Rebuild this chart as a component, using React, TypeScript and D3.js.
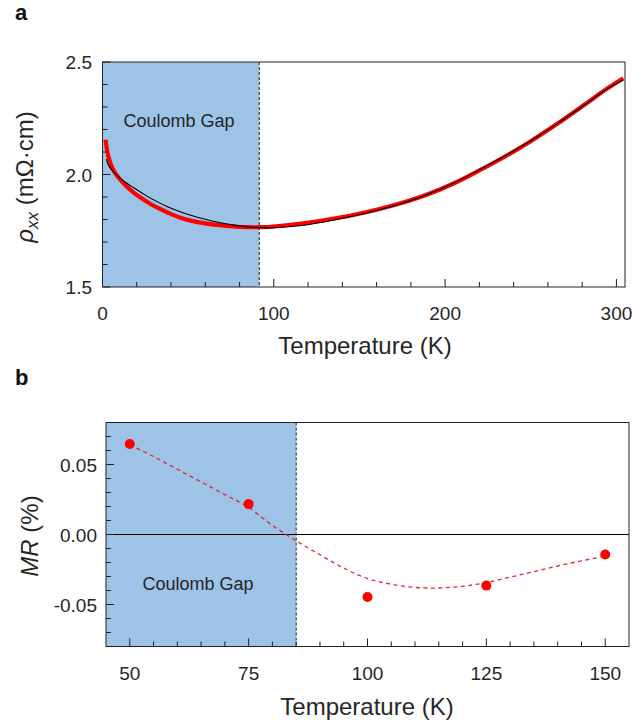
import React from "react";
import * as d3 from "d3";

// ---------- Panel a data ----------
const redT = [1.8, 2.3, 3, 4, 5, 7, 10, 14, 18, 23, 28, 33, 38, 45, 52, 60, 68, 76, 84, 92, 100, 115, 130, 145, 160, 175, 190, 205, 220, 235, 250, 265, 280, 295, 304];
const redRho = [2.155, 2.125, 2.095, 2.065, 2.042, 2.012, 1.98, 1.948, 1.921, 1.893, 1.869, 1.849, 1.831, 1.809, 1.794, 1.783, 1.775, 1.769, 1.766, 1.766, 1.769, 1.781, 1.798, 1.818, 1.843, 1.874, 1.912, 1.96, 2.018, 2.08, 2.148, 2.223, 2.303, 2.384, 2.428];
const blackT = [2.2, 3, 4, 5, 7, 10, 14, 18, 23, 28, 33, 38, 45, 52, 60, 68, 76, 84, 92, 100, 115, 130, 145, 160, 175, 190, 205, 220, 235, 250, 265, 280, 295, 304];
const blackRho = [2.068, 2.05, 2.035, 2.024, 2.006, 1.985, 1.962, 1.942, 1.918, 1.895, 1.875, 1.857, 1.836, 1.818, 1.801, 1.787, 1.776, 1.768, 1.764, 1.763, 1.772, 1.79, 1.813, 1.84, 1.872, 1.912, 1.962, 2.021, 2.083, 2.15, 2.224, 2.302, 2.382, 2.42];
const aXTicks = [0, 100, 200, 300];
const aYTicks = [1.5, 2.0, 2.5];
const aGapEnd = 91.5;

// ---------- Panel b data ----------
const mrT = [50, 75, 100, 125, 150];
const mrVal = [0.0647, 0.0217, -0.0447, -0.0365, -0.0143];
const fitT = [50, 55, 60, 65, 70, 75, 80, 85, 90, 95, 100, 105, 110, 115, 120, 125, 130, 135, 140, 145, 150];
const fitVal = [0.064, 0.0557, 0.0466, 0.0376, 0.0285, 0.0193, 0.0065, -0.0045, -0.0145, -0.024, -0.0315, -0.0355, -0.0378, -0.0382, -0.037, -0.0343, -0.0305, -0.0265, -0.0225, -0.0188, -0.0155];
const bXTicks = [50, 75, 100, 125, 150];
const bYTicks = [-0.05, 0.0, 0.05];
const bGapEnd = 85;

const FONT = "'Liberation Sans', Arial, sans-serif";
const SHADE = "#9dc3e6";
const TXT = "#262626";

export default function App() {
  // panel a
  const ax = d3.scaleLinear().domain([0, 305]).range([102.5, 625]);
  const ay = d3.scaleLinear().domain([1.5, 2.5]).range([287, 62]);
  // panel b
  const bx = d3.scaleLinear().domain([45, 155]).range([106, 629]);
  const by = d3.scaleLinear().domain([-0.08, 0.08]).range([646.5, 422.5]);

  const lineA = (T: number[], R: number[]) =>
    d3.line<number>().x((_, i) => ax(T[i])).y((_, i) => ay(R[i])).curve(d3.curveCatmullRom.alpha(0.5))(T) || "";
  const fitPath =
    d3.line<number>().x((_, i) => bx(fitT[i])).y((_, i) => by(fitVal[i])).curve(d3.curveCatmullRom.alpha(0.5))(fitT) || "";

  const aMinorX = d3.range(20, 305, 20).filter((v) => v % 100 !== 0);
  const aMinorY = d3.range(1.6, 2.5, 0.1).filter((v) => Math.abs(v - 2.0) > 1e-6);
  const bMinorX = d3.range(50, 155, 5).filter((v) => v % 25 !== 0);
  const bMinorY = d3.range(-0.07, 0.08, 0.01).filter((v) => Math.abs(Math.abs(v) - 0.05) > 1e-6 && Math.abs(v) > 1e-6);

  const [axL, axR] = ax.range();
  const [ayB, ayT] = ay.range();
  const [bxL, bxR] = bx.range();
  const [byB, byT] = by.range();

  return (
    <svg width={634} height={724} style={{ position: "absolute", left: 0, top: 0, background: "#fff" }} fontFamily={FONT}>
      {/* ---------- Panel a ---------- */}
      <text x={15} y={20} fontSize={22} fontWeight="bold" fill="#111">a</text>
      <rect x={axL} y={ayT} width={ax(aGapEnd) - axL} height={ayB - ayT} fill={SHADE} />
      <line x1={ax(aGapEnd)} x2={ax(aGapEnd)} y1={ayT} y2={ayB} stroke="#222" strokeWidth={1} strokeDasharray="3,2" />
      <text x={179} y={127} fontSize={18} fill={TXT} textAnchor="middle">Coulomb Gap</text>
      <path d={lineA(redT, redRho)} fill="none" stroke="#ff0000" strokeWidth={4.2} />
      <path d={lineA(blackT, blackRho)} fill="none" stroke="#000" strokeWidth={1.1} />
      <rect x={axL} y={ayT} width={axR - axL} height={ayB - ayT} fill="none" stroke="#222" strokeWidth={1} />
      {aXTicks.map((t) => (
        <g key={"axt" + t}>
          <line x1={ax(t)} x2={ax(t)} y1={ayB} y2={ayB - 8} stroke="#222" />
          <text x={ax(t)} y={320} fontSize={19} fill={TXT} textAnchor="middle">{t}</text>
        </g>
      ))}
      {aMinorX.map((t) => (
        <line key={"axm" + t} x1={ax(t)} x2={ax(t)} y1={ayB} y2={ayB - 5} stroke="#222" />
      ))}
      {aYTicks.map((v) => (
        <g key={"ayt" + v}>
          <line x1={axL} x2={axL + 8} y1={ay(v)} y2={ay(v)} stroke="#222" />
          <text x={92} y={ay(v) + 7} fontSize={19} fill={TXT} textAnchor="end">{v.toFixed(1)}</text>
        </g>
      ))}
      {aMinorY.map((v) => (
        <line key={"aym" + v} x1={axL} x2={axL + 5} y1={ay(v)} y2={ay(v)} stroke="#222" />
      ))}
      <text x={365} y={354} fontSize={24} fill={TXT} textAnchor="middle">Temperature (K)</text>
      <text transform={`translate(33,${177}) rotate(-90)`} fontSize={24} fill={TXT} textAnchor="middle">
        <tspan fontStyle="italic">ρ</tspan>
        <tspan fontStyle="italic" fontSize={17} dy={5}>xx</tspan>
        <tspan dy={-5}> (mΩ·cm)</tspan>
      </text>

      {/* ---------- Panel b ---------- */}
      <text x={15} y={385} fontSize={22} fontWeight="bold" fill="#111">b</text>
      <rect x={bxL} y={byT} width={bx(bGapEnd) - bxL} height={byB - byT} fill={SHADE} />
      <line x1={bx(bGapEnd)} x2={bx(bGapEnd)} y1={byT} y2={byB} stroke="#222" strokeWidth={1} strokeDasharray="3,2" />
      <line x1={bxL} x2={bxR} y1={by(0)} y2={by(0)} stroke="#000" strokeWidth={1.2} />
      <text x={198} y={590} fontSize={18} fill={TXT} textAnchor="middle">Coulomb Gap</text>
      <path d={fitPath} fill="none" stroke="#dd2a2e" strokeWidth={1.3} strokeDasharray="4,3.5" />
      {mrT.map((t, i) => (
        <circle key={"pt" + t} cx={bx(t)} cy={by(mrVal[i])} r={5} fill="#ff0000" />
      ))}
      <rect x={bxL} y={byT} width={bxR - bxL} height={byB - byT} fill="none" stroke="#222" strokeWidth={1} />
      {bXTicks.map((t) => (
        <g key={"bxt" + t}>
          <line x1={bx(t)} x2={bx(t)} y1={byB} y2={byB - 8} stroke="#222" />
          <text x={bx(t)} y={680} fontSize={19} fill={TXT} textAnchor="middle">{t}</text>
        </g>
      ))}
      {bMinorX.map((t) => (
        <line key={"bxm" + t} x1={bx(t)} x2={bx(t)} y1={byB} y2={byB - 5} stroke="#222" />
      ))}
      {bYTicks.map((v) => (
        <g key={"byt" + v}>
          <line x1={bxL} x2={bxL + 8} y1={by(v)} y2={by(v)} stroke="#222" />
          <text x={97} y={by(v) + 7} fontSize={19} fill={TXT} textAnchor="end">{v.toFixed(2)}</text>
        </g>
      ))}
      {bMinorY.map((v) => (
        <line key={"bym" + v} x1={bxL} x2={bxL + 5} y1={by(v)} y2={by(v)} stroke="#222" />
      ))}
      <text x={367} y={715} fontSize={24} fill={TXT} textAnchor="middle">Temperature (K)</text>
      <text transform={`translate(38,${536}) rotate(-90)`} fontSize={24} fill={TXT} textAnchor="middle">
        <tspan fontStyle="italic">MR</tspan>
        <tspan> (%)</tspan>
      </text>
    </svg>
  );
}
